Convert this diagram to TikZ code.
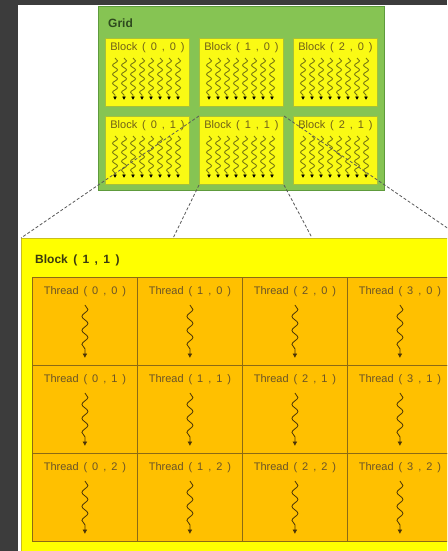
\documentclass[tikz,border=0pt]{standalone}
\usepackage{fontspec}
\setmainfont{Liberation Sans}
\usetikzlibrary{positioning,calc,arrows.meta,decorations.pathmorphing}

\definecolor{shell}{HTML}{3C3C3C}
\definecolor{gridgreen}{HTML}{86C453}
\definecolor{gridline}{HTML}{5E9B3C}
\definecolor{gridtext}{HTML}{2E4A1E}
\definecolor{blkyellow}{HTML}{FAFA14}
\definecolor{blkline}{HTML}{A8C038}
\definecolor{blktext}{HTML}{6F6018}
\definecolor{blkwave}{HTML}{7A7A10}
\definecolor{bigyellow}{HTML}{FFFF00}
\definecolor{bigline}{HTML}{C9BE1E}
\definecolor{bigtext}{HTML}{3A3A10}
\definecolor{thrfill}{HTML}{FFC000}
\definecolor{thrline}{HTML}{8C6A14}
\definecolor{thrtext}{HTML}{6A5428}
\definecolor{thrwave}{HTML}{4A3408}

% index pair with the wide spacing of the original
\newcommand\pair[2]{\hspace{.45em}(\hspace{.45em}#1\hspace{.45em},\hspace{.45em}#2\hspace{.45em})}

\begin{document}
\begin{tikzpicture}[x=1pt, y=-1pt,
  gridbox/.style={draw=gridline, fill=gridgreen, line width=1pt, anchor=north west,
    minimum width=286pt, minimum height=184pt, inner sep=0pt},
  blk/.style={draw=blkline, fill=blkyellow, line width=1pt, anchor=north west,
    minimum width=84pt, minimum height=68pt, inner sep=0pt},
  bigblk/.style={draw=bigline, fill=bigyellow, line width=1pt, anchor=north west,
    minimum width=440pt, minimum height=314pt, inner sep=0pt},
  thr/.style={draw=thrline, fill=thrfill, line width=0.8pt, anchor=north west,
    minimum width=105pt, minimum height=88pt, inner sep=0pt},
  lbl/.style={inner sep=0pt, font=\fontsize{11}{13}\selectfont},
  ttl/.style={inner sep=0pt, anchor=west, font=\fontsize{12}{14}\selectfont\bfseries},
  minwave/.style={draw=blkwave, line width=0.9pt, decorate,
    decoration={snake, amplitude=2.5pt, segment length=9pt, post length=3pt},
    -{Latex[length=3.5pt, width=4pt, color=black]}},
  thrwave/.style={draw=thrwave, line width=0.8pt, decorate,
    decoration={snake, amplitude=3pt, segment length=14pt, post length=4pt},
    -{Latex[length=4.5pt, width=5pt]}},
  proj/.style={draw=black!65, line width=0.8pt, dash pattern=on 3pt off 2pt}]
\useasboundingbox (0,0) rectangle (447,551);
\clip (0,0) rectangle (447,551);
\fill[shell] (0,0) rectangle (447,551);
\fill[white] (18,5) rectangle (447,551);

% the grid of blocks
\node[gridbox] (grid) at (98,6) {};
\node[ttl, text=gridtext] (gridlbl) at ($(grid.north west)+(10,17)$) {Grid};
\foreach \i in {0,1,2}
  \foreach \j in {0,1} {
    \node[blk] (b\i\j) at ({105+94*\i},{38+78*\j}) {};
    \node[lbl, text=blktext, below=4pt of b\i\j.north] (bl\i\j) {Block\pair{\i}{\j}};
    \foreach \k in {0,...,7}
      \draw[minwave] ($(b\i\j.north west)+(10+9*\k,20)$) -- ++(0,42);
  }

% block (1,1) blown up
\node[bigblk] (big) at (21,238) {};
\node[ttl, text=bigtext] (biglbl) at ($(big.north west)+(14,22)$) {Block\pair{1}{1}};
\foreach \i in {0,...,3}
  \foreach \j in {0,1,2} {
    \node[thr] (t\i\j) at ({32+105*\i},{277+88*\j}) {};
    \node[lbl, text=thrtext, below=9pt of t\i\j.north] (tl\i\j) {Thread\pair{\i}{\j}};
    \draw[thrwave] ($(t\i\j.north)+(0,28)$) -- ($(t\i\j.north)+(0,81)$);
  }

% projection lines
\coordinate (pl) at ($(big.north west)!0.345!(big.north east)$);
\coordinate (pr) at ($(big.north west)!0.66!(big.north east)$);
\draw[proj] (b11.north west) -- (big.north west);
\draw[proj] (b11.north east) -- (big.north east);
\draw[proj] (b11.south west) -- (pl);
\draw[proj] (b11.south east) -- (pr);
\end{tikzpicture}
\end{document}
